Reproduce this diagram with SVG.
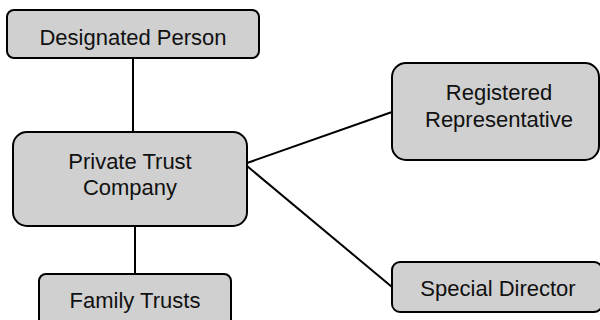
<svg xmlns="http://www.w3.org/2000/svg" width="600" height="320" viewBox="0 0 600 320">
<style>
.box{fill:#d0d0d0;stroke:#000;stroke-width:2}
.lbl{font-family:"Liberation Sans",Arial,sans-serif;font-size:22px;fill:#111;text-anchor:middle}
.conn{stroke:#000;stroke-width:2;fill:none}
</style>
<rect width="600" height="320" fill="#fff"/>
<g id="connectors">
<line class="conn" x1="133" y1="58" x2="133" y2="132"/>
<line class="conn" x1="135" y1="226" x2="135" y2="274"/>
<line class="conn" x1="247" y1="163" x2="392" y2="112"/>
<line class="conn" x1="247" y1="166" x2="392" y2="287"/>
</g>
<g id="designated-person">
<rect class="box" x="7" y="10" width="252" height="48" rx="7"/>
<text class="lbl" x="133" y="45">Designated Person</text>
</g>
<g id="private-trust-company">
<rect class="box" x="13" y="132" width="234" height="94" rx="14"/>
<text class="lbl" x="130" y="169">Private Trust</text>
<text class="lbl" x="130" y="195">Company</text>
</g>
<g id="family-trusts">
<rect class="box" x="39" y="274" width="192" height="60" rx="7"/>
<text class="lbl" x="135" y="308">Family Trusts</text>
</g>
<g id="registered-representative">
<rect class="box" x="392" y="63" width="207" height="97" rx="14"/>
<text class="lbl" x="499" y="100">Registered</text>
<text class="lbl" x="499" y="127">Representative</text>
</g>
<g id="special-director">
<rect class="box" x="392" y="262" width="210" height="50" rx="8"/>
<text class="lbl" x="498" y="296">Special Director</text>
</g>
</svg>
